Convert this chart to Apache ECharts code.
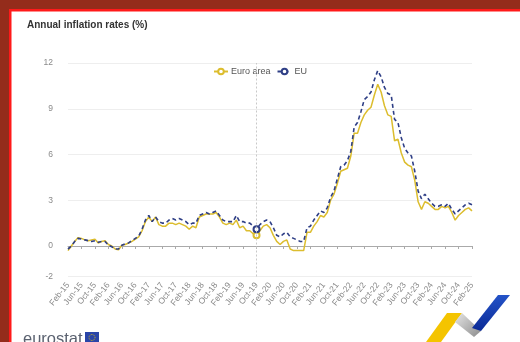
<!DOCTYPE html>
<html>
<head>
<meta charset="utf-8">
<script src="https://cdn.jsdelivr.net/npm/echarts@6/dist/echarts.min.js"></script>
<style>
  html, body { margin: 0; padding: 0; background: #ffffff; }
  #chart { width: 520px; height: 342px; }
</style>
</head>
<body>
<div id="chart"></div>
<script>
// Monthly categories, Feb-15 to Feb-25
const monthNames = ['Jan', 'Feb', 'Mar', 'Apr', 'May', 'Jun', 'Jul', 'Aug', 'Sep', 'Oct', 'Nov', 'Dec'];
const categories = [];
for (let y = 2015, m = 1; y < 2025 || (y === 2025 && m <= 1); m++) {
  if (m === 12) { m = 0; y++; }
  if (y > 2025 || (y === 2025 && m > 1)) break;
  categories.push(monthNames[m] + '-' + String(y).slice(2));
}

// Annual inflation rate, euro area (%)
const euroArea = [
  -0.3, 0.0, 0.3, 0.55, 0.5, 0.4, 0.35, 0.4, 0.45, 0.2, 0.3,          // 2015 (Feb-Dec)
  0.35, 0.1, 0.0, -0.2, -0.25, 0.05, 0.1, 0.2, 0.3, 0.45, 0.6, 1.0,   // 2016
  1.6, 1.9, 1.6, 1.9, 1.4, 1.3, 1.3, 1.5, 1.5, 1.4, 1.5, 1.4,         // 2017
  1.3, 1.1, 1.3, 1.2, 1.9, 2.0, 2.1, 2.1, 2.1, 2.2, 1.9, 1.5,         // 2018
  1.4, 1.5, 1.4, 1.7, 1.2, 1.3, 1.0, 1.0, 0.8, 0.7, 1.0, 1.3,         // 2019
  1.4, 1.2, 0.7, 0.3, 0.1, 0.3, 0.4, -0.2, -0.3, -0.3, -0.3, -0.3,    // 2020
  0.9, 0.9, 1.3, 1.6, 2.0, 1.9, 2.2, 3.0, 3.4, 4.1, 4.9, 5.0,         // 2021
  5.1, 5.9, 7.4, 7.4, 8.1, 8.6, 8.9, 9.1, 9.9, 10.6, 10.1, 9.2,       // 2022
  8.6, 8.5, 6.9, 7.0, 6.1, 5.5, 5.3, 5.2, 4.3, 2.9, 2.4, 2.9,         // 2023
  2.8, 2.6, 2.4, 2.4, 2.6, 2.5, 2.6, 2.2, 1.7, 2.0, 2.2, 2.4,         // 2024
  2.5, 2.3                                                            // 2025
];

// Annual inflation rate, EU (%)
const eu = [
  -0.2, 0.0, 0.3, 0.5, 0.45, 0.4, 0.35, 0.3, 0.35, 0.25, 0.3,         // 2015 (Feb-Dec)
  0.3, 0.05, -0.05, -0.2, -0.2, 0.05, 0.15, 0.2, 0.35, 0.5, 0.65, 1.1, // 2016
  1.7, 2.0, 1.6, 1.9, 1.6, 1.5, 1.5, 1.7, 1.8, 1.7, 1.8, 1.7,         // 2017
  1.6, 1.4, 1.5, 1.5, 2.0, 2.1, 2.2, 2.1, 2.2, 2.3, 2.0, 1.7,         // 2018
  1.6, 1.6, 1.6, 2.0, 1.6, 1.6, 1.5, 1.5, 1.3, 1.1, 1.4, 1.6,         // 2019
  1.7, 1.6, 1.2, 0.7, 0.6, 0.8, 0.9, 0.6, 0.5, 0.4, 0.3, 0.3,         // 2020
  1.2, 1.3, 1.7, 2.0, 2.3, 2.2, 2.5, 3.2, 3.6, 4.4, 5.2, 5.3,         // 2021
  5.6, 6.2, 7.8, 8.1, 8.8, 9.6, 9.8, 10.1, 10.9, 11.5, 11.1, 10.4,    // 2022
  10.0, 9.9, 8.3, 8.1, 7.1, 6.4, 6.1, 5.9, 4.9, 3.6, 3.1, 3.4,        // 2023
  3.1, 2.8, 2.6, 2.6, 2.7, 2.6, 2.8, 2.4, 2.1, 2.3, 2.5, 2.7,         // 2024
  2.8, 2.7                                                            // 2025
];

const yTicks = [-2, 0, 3, 6, 9, 12];
const highlightMonth = 'Oct-19';
const highlightIndex = categories.indexOf(highlightMonth);

const euroColor = '#dcbd2e';
const euColor = '#2f3f86';

// only the highlighted month carries a visible marker
function withHighlight(values) {
  return values.map((v, i) => i === highlightIndex
    ? { value: v, symbol: 'emptyCircle', symbolSize: 6 }
    : { value: v, symbol: 'none' });
}

const chart = echarts.init(document.getElementById('chart'), null, { renderer: 'canvas' });

chart.setOption({
  animation: false,
  backgroundColor: '#ffffff',
  title: {
    text: 'Annual inflation rates (%)',
    left: 22,
    top: 15,
    textStyle: { fontFamily: 'Liberation Sans, Arial, sans-serif', fontSize: 10, fontWeight: 'bold', color: '#333333' }
  },
  legend: {
    top: 62,
    left: 'center',
    itemWidth: 14,
    itemHeight: 7,
    itemGap: 6,
    textStyle: { fontFamily: 'Liberation Sans, Arial, sans-serif', fontSize: 9, color: '#555555', padding: [0, 0, 0, -2] },
    data: ['Euro area', 'EU']
  },
  grid: { left: 68, right: 48, top: 63, bottom: 65.5 },
  xAxis: {
    type: 'category',
    data: categories,
    boundaryGap: false,
    axisLine: { onZero: true, lineStyle: { color: '#aaaaaa', width: 1 } },
    axisTick: { show: true, interval: 3, length: 3, lineStyle: { color: '#aaaaaa' } },
    axisLabel: {
      interval: 3,
      rotate: 52,
      margin: 7,
      fontFamily: 'Liberation Sans, Arial, sans-serif',
      fontSize: 8.5,
      color: '#8a8a8a'
    },
    splitLine: { show: false }
  },
  yAxis: {
    type: 'value',
    min: -2,
    max: 12,
    axisLine: { show: false },
    axisTick: { show: false, customValues: yTicks },
    axisLabel: {
      customValues: yTicks,
      margin: 15,
      fontFamily: 'Liberation Sans, Arial, sans-serif',
      fontSize: 8.5,
      color: '#8a8a8a'
    },
    splitLine: { show: true, lineStyle: { color: '#eeeeee', width: 1 } }
  },
  series: [
    {
      name: 'Euro area',
      type: 'line',
      data: withHighlight(euroArea),
      symbol: 'emptyCircle',
      showSymbol: true,
      showAllSymbol: true,
      color: euroColor,
      lineStyle: { color: euroColor, width: 1.5 },
      itemStyle: { color: euroColor, borderWidth: 1.5 },
      z: 2
    },
    {
      name: 'EU',
      type: 'line',
      data: withHighlight(eu),
      symbol: 'emptyCircle',
      showSymbol: true,
      showAllSymbol: true,
      color: euColor,
      lineStyle: { color: euColor, width: 1.6, type: [4, 3] },
      itemStyle: { color: euColor, borderWidth: 1.5 },
      z: 3,
      markLine: {
        silent: true,
        symbol: 'none',
        label: { show: false },
        lineStyle: { color: '#c8c8c8', type: [2, 2], width: 1 },
        data: [{ xAxis: highlightMonth }]
      }
    }
  ],
  graphic: [
    // frame
    { type: 'rect', shape: { x: 0, y: 0, width: 520, height: 9 }, style: { fill: '#942c1b' }, z: 100 },
    { type: 'rect', shape: { x: 0, y: 0, width: 9, height: 342 }, style: { fill: '#942c1b' }, z: 100 },
    { type: 'rect', shape: { x: 9, y: 9, width: 511, height: 2.5 }, style: { fill: '#ff1a1a' }, z: 100 },
    { type: 'rect', shape: { x: 9, y: 9, width: 2.5, height: 333 }, style: { fill: '#ff1a1a' }, z: 100 },
    // eurostat wordmark and flag
    { type: 'text', x: 23, y: 348, style: { text: 'eurostat', font: '16.5px "Liberation Sans", Arial, sans-serif', fill: '#5b6270', verticalAlign: 'bottom' }, z: 100 },
    { type: 'rect', shape: { x: 85, y: 332, width: 14, height: 10 }, style: { fill: '#2a45a8' }, z: 100 },
    { type: 'circle', shape: { cx: 92, cy: 337.5, r: 3 }, style: { fill: 'none', stroke: '#f5d000', lineWidth: 0.8, lineDash: [0.8, 0.8] }, z: 101 },
    // decorative ribbon
    { type: 'polygon', shape: { points: [[426, 342], [447, 313], [462, 313], [441, 342]] }, style: { fill: '#f4c400' }, z: 100 },
    { type: 'polygon', shape: { points: [[455, 322], [462, 313], [481, 331], [474, 337]] },
      style: { fill: new echarts.graphic.LinearGradient(0, 0, 1, 1, [{ offset: 0, color: '#e6e6e6' }, { offset: 1, color: '#8c8c8c' }]) }, z: 100 },
    { type: 'polygon', shape: { points: [[472, 328], [498, 295], [510, 295], [481, 331]] },
      style: { fill: new echarts.graphic.LinearGradient(0, 0, 0, 1, [{ offset: 0, color: '#2453c8' }, { offset: 1, color: '#0b2a96' }]) }, z: 100 }
  ]
});
</script>
</body>
</html>
